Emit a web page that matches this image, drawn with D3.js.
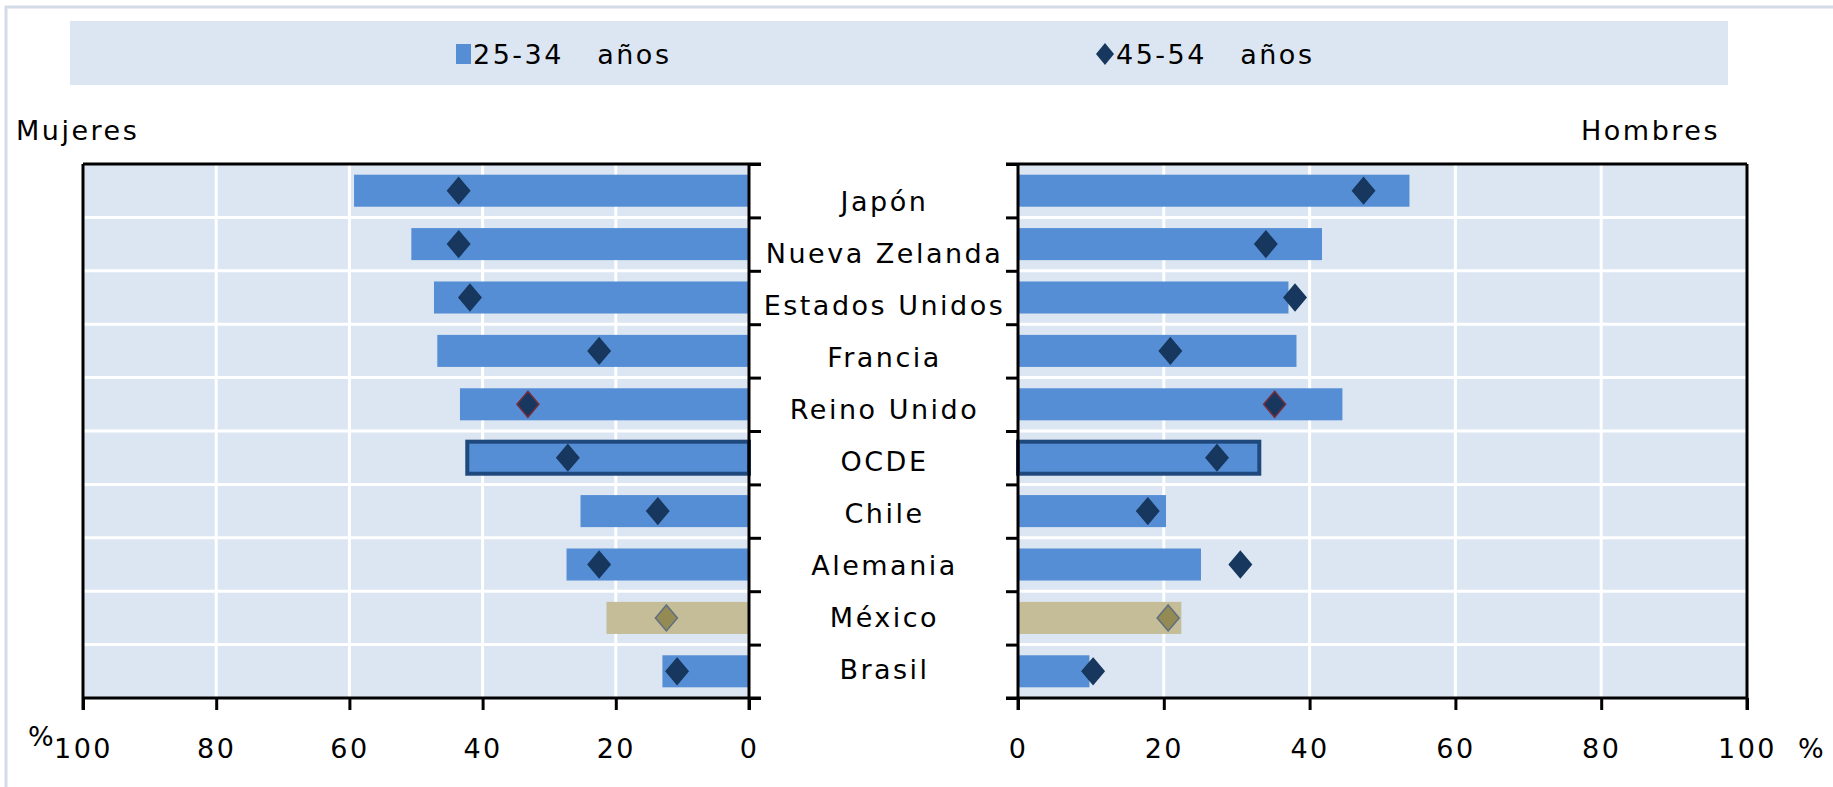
<!DOCTYPE html>
<html>
<head>
<meta charset="utf-8">
<script src="https://cdn.jsdelivr.net/npm/d3@7"></script>
<style>
  body { margin: 0; background: #fff; }
  text { font-family: "DejaVu Sans", Verdana, sans-serif; font-size: 27px; letter-spacing: 2.5px; fill: #000; }
</style>
</head>
<body>
<div id="chart"></div>
<script>
// values (% of age group)
const categories = ['Japón', 'Nueva Zelanda', 'Estados Unidos', 'Francia', 'Reino Unido', 'OCDE', 'Chile', 'Alemania', 'México', 'Brasil'];
const women2534 = [59.3, 50.7, 47.3, 46.8, 43.4, 42.3, 25.3, 27.4, 21.4, 13.0];
const women4554 = [43.6, 43.6, 41.9, 22.5, 33.2, 27.2, 13.7, 22.5, 12.4, 10.8];
const men2534 = [53.7, 41.7, 37.1, 38.2, 44.5, 33.1, 20.3, 25.1, 22.4, 9.8];
const men4554 = [47.4, 34.0, 38.0, 20.9, 35.2, 27.3, 17.8, 30.5, 20.6, 10.3];
const xTicks = [0, 20, 40, 60, 80, 100];
const legendLabels = ['25-34   años', '45-54   años'];
const panelTitles = ['Mujeres', 'Hombres'];

const W = 1833, H = 787;
const plotTop = 164, plotBottom = 698;
const bg = '#dce6f2', barBlue = '#558ed5', navy = '#17375e';

const svg = d3.select('#chart').append('svg')
    .attr('width', W)
    .attr('height', H);

// outer frame
svg.append('rect')
    .attr('x', 6).attr('y', 7)
    .attr('width', W + 20).attr('height', H + 20)
    .attr('fill', 'none')
    .attr('stroke', '#d3dbe7')
    .attr('stroke-width', 3);

// legend
svg.append('rect')
    .attr('x', 70).attr('y', 21)
    .attr('width', 1658).attr('height', 64)
    .attr('fill', bg);

svg.append('rect')
    .attr('x', 456).attr('y', 44)
    .attr('width', 15).attr('height', 20)
    .attr('fill', barBlue);
svg.append('text')
    .attr('x', 473).attr('y', 64)
    .style('white-space', 'pre')
    .text(legendLabels[0]);

const diamond = (w, h) => `M0,${-h}L${w},0L0,${h}L${-w},0Z`;

svg.append('path')
    .attr('d', diamond(9, 11))
    .attr('transform', 'translate(1105,54)')
    .attr('fill', navy);
svg.append('text')
    .attr('x', 1116).attr('y', 64)
    .style('white-space', 'pre')
    .text(legendLabels[1]);

// panel titles
svg.append('text').attr('x', 16).attr('y', 140).text(panelTitles[0]);
svg.append('text').attr('x', 1720).attr('y', 140).attr('text-anchor', 'end').text(panelTitles[1]);

// scales
const y = d3.scaleBand()
    .domain(categories)
    .range([plotTop, plotBottom])
    .paddingInner(0.4)
    .paddingOuter(0.2);
const rows = d3.scaleLinear().domain([0, categories.length]).range([plotTop, plotBottom]);
const labelY = d3.scalePoint().domain(categories).range([201, 669]);

const xLeft = d3.scaleLinear().domain([100, 0]).range([83, 749]);
const xRight = d3.scaleLinear().domain([0, 100]).range([1018, 1747]);

const barFill = c => c === 'México' ? '#c4bd97' : barBlue;
const dotFill = c => c === 'México' ? '#948a54' : navy;
const dotStroke = c => c === 'México' ? '#5f6f82' : (c === 'Reino Unido' ? '#7b2c3a' : navy);

function drawPanel(x, bars, dots, side) {
    const [x0, x1] = x.range();
    const g = svg.append('g');

    g.append('rect')
        .attr('x', x0).attr('y', plotTop)
        .attr('width', x1 - x0).attr('height', plotBottom - plotTop)
        .attr('fill', bg);

    // white grid
    g.selectAll('.vgrid')
        .data(xTicks.filter(t => t > 0 && t < 100))
        .join('line')
        .attr('class', 'vgrid')
        .attr('x1', d => x(d)).attr('x2', d => x(d))
        .attr('y1', plotTop).attr('y2', plotBottom)
        .attr('stroke', '#fff').attr('stroke-width', 3);
    g.selectAll('.hgrid')
        .data(d3.range(1, categories.length))
        .join('line')
        .attr('class', 'hgrid')
        .attr('x1', x0).attr('x2', x1)
        .attr('y1', d => rows(d)).attr('y2', d => rows(d))
        .attr('stroke', '#fff').attr('stroke-width', 3);

    // 25-34 bars
    g.selectAll('.bar')
        .data(categories)
        .join('rect')
        .attr('class', 'bar')
        .attr('x', (d, i) => Math.min(x(0), x(bars[i])))
        .attr('y', d => y(d))
        .attr('width', (d, i) => Math.abs(x(bars[i]) - x(0)))
        .attr('height', y.bandwidth())
        .attr('fill', barFill)
        .attr('stroke', d => d === 'OCDE' ? '#1f497d' : 'none')
        .attr('stroke-width', 4);

    // 45-54 diamonds
    g.selectAll('.dot')
        .data(categories)
        .join('path')
        .attr('class', 'dot')
        .attr('d', diamond(11, 13))
        .attr('transform', (d, i) => `translate(${x(dots[i])},${y(d) + y.bandwidth() / 2})`)
        .attr('fill', dotFill)
        .attr('stroke', dotStroke)
        .attr('stroke-width', 1.5);

    // bottom value axis
    const ax = g.append('g')
        .attr('transform', `translate(0,${plotBottom})`)
        .call(d3.axisBottom(x).tickValues(xTicks).tickSize(12).tickPadding(29).tickSizeOuter(0));
    ax.select('.domain').remove();
    ax.selectAll('line').attr('stroke', '#000').attr('stroke-width', 3);
    ax.selectAll('text').style('font-size', '27px').style('font-family', '"DejaVu Sans", sans-serif');

    // category axis ticks on the inner side
    const cx = side === 'left' ? x1 : x0;
    const cat = g.append('g')
        .attr('transform', `translate(${cx},0)`)
        .call((side === 'left' ? d3.axisRight(rows) : d3.axisLeft(rows))
            .ticks(categories.length).tickSize(12).tickFormat(''));
    cat.select('.domain').remove();
    cat.selectAll('line').attr('stroke', '#000').attr('stroke-width', 3);

    // frame
    const ext = side === 'left' ? [x0, x1 + 12] : [x0 - 12, x1];
    const frame = g.append('g').attr('stroke', '#000').attr('stroke-width', 3);
    frame.append('line').attr('x1', ext[0]).attr('x2', ext[1]).attr('y1', plotTop).attr('y2', plotTop);
    frame.append('line').attr('x1', ext[0]).attr('x2', ext[1]).attr('y1', plotBottom).attr('y2', plotBottom);
    frame.append('line').attr('x1', x0).attr('x2', x0).attr('y1', plotTop).attr('y2', plotBottom + 12);
    frame.append('line').attr('x1', x1).attr('x2', x1).attr('y1', plotTop).attr('y2', plotBottom + 12);
}

drawPanel(xLeft, women2534, women4554, 'left');
drawPanel(xRight, men2534, men4554, 'right');

// category labels between the panels
svg.selectAll('.cat-label')
    .data(categories)
    .join('text')
    .attr('class', 'cat-label')
    .attr('x', (749 + 1018) / 2 + 1)
    .attr('y', d => labelY(d))
    .attr('dy', '0.36em')
    .attr('text-anchor', 'middle')
    .text(d => d);

// percent signs
svg.append('text').attr('x', 28).attr('y', 746).style('letter-spacing', '0px').text('%');
svg.append('text').attr('x', 1798).attr('y', 758).text('%');
</script>
</body>
</html>
